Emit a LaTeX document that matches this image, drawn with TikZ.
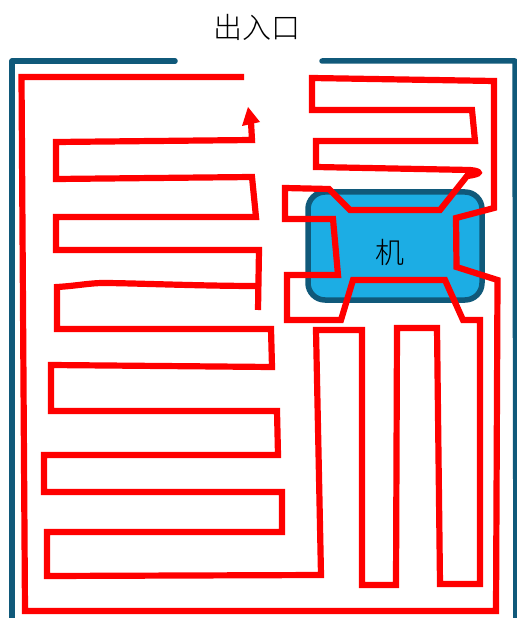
\documentclass[tikz,border=0pt]{standalone}
\usepackage{fontspec}
\newfontfamily\cjk{Noto Sans CJK SC Light}
\definecolor{wall}{HTML}{10597A}
\definecolor{mach}{HTML}{1CADE4}
\tikzset{
  wallline/.style={draw=wall,line width=5.5bp,line cap=round,line join=round},
  route/.style={draw=red,line width=6.2bp,line join=miter,miter limit=10},
  routehead/.style={fill=red,draw=none},
  machine/.style={draw=wall,fill=mach,line width=5.5bp,rounded corners=17bp,minimum width=174bp,minimum height=108bp,inner sep=0pt},
  titletext/.style={font=\cjk\fontsize{29bp}{32bp}\selectfont,inner sep=0pt}
}
\begin{document}
\begin{tikzpicture}[x=1bp,y=-1bp]
\useasboundingbox (0,0) rectangle (517,618);
\node[titletext] (door) at (257,27) {出入口};
\draw[wallline] (12,625) -- (12,61) -- (175,61);
\draw[wallline] (322,61) -- (515,61) -- (516,625);
\node[machine] (m) at (395,246) {};
\node[font=\cjk\fontsize{29bp}{32bp}\selectfont,inner sep=0pt] (mlabel) at (390,252) {机};
\draw[route] (244,77) -- (21.5,77) -- (25,611) -- (496,611) -- (497.5,280) -- (456.5,267) -- (456,218) -- (494,208) -- (494,81) -- (312,78) -- (312,110) -- (472,110) -- (475,141) -- (316,141) -- (316,167) -- (470,170) .. controls (481,171) and (483,174) .. (467,176) -- (440,210) -- (350,210) -- (329,189) -- (285,188) -- (285,219) -- (333,219) -- (338,275) -- (287,275) -- (287,320) -- (341,320) -- (353,280) -- (445,280) -- (463,320) -- (480,320) -- (480,584) -- (440,584) -- (437,328) -- (397,328) -- (396,585) -- (362,585) -- (362,330) -- (316,330) -- (321,575) -- (47,576) -- (47,532) -- (282,532) -- (282,492) -- (44,492) -- (44,455) -- (278,455) -- (277,411) -- (51,411) -- (51,365) -- (272,367) -- (271,329) -- (57,329) -- (57,287) .. controls (75,286) and (90,283) .. (103,283) .. controls (130,283) and (200,286) .. (258,286);
\draw[route] (258,310) -- (259,250) -- (56,250) -- (56,217) -- (256,217) -- (252,177) -- (56,179) -- (56,142) -- (252,140) -- (251,122);
\fill[routehead] (248,107) -- (260,122) -- (242,126) -- cycle;
\end{tikzpicture}
\end{document}
